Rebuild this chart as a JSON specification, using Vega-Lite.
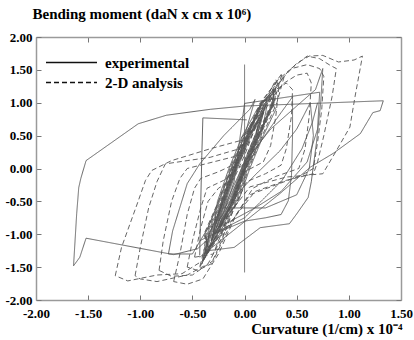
{
  "$schema": "https://vega.github.io/schema/vega-lite/v6.json",
  "autosize": {"type": "none"},
  "width": 365,
  "height": 263,
  "padding": {"left": 36, "top": 37, "right": 13, "bottom": 40},
  "background": "white",
  "config": {
    "view": {"stroke": null},
    "font": "Liberation Serif",
    "axis": {
      "labelFont": "Liberation Serif", "labelFontWeight": "bold", "labelFontSize": 13, "labelColor": "black",
      "titleFont": "Liberation Serif", "titleFontWeight": "bold", "titleFontSize": 15, "titleColor": "black",
      "domainColor": "#9a9a9a", "domainWidth": 1.5, "tickColor": "#777", "tickWidth": 1, "grid": false
    },
    "legend": {
      "labelFont": "Liberation Serif", "labelFontWeight": "bold", "labelFontSize": 15, "labelColor": "black"
    }
  },
  "data": {"values": [
    {"series":"experimental","loop":"E1","x":-0.43,"y":-1.35},
    {"series":"experimental","loop":"E1","x":0.34,"y":-0.38},
    {"series":"experimental","loop":"E1","x":0.63,"y":0.02},
    {"series":"experimental","loop":"E1","x":0.85,"y":0.23},
    {"series":"experimental","loop":"E1","x":1.11,"y":0.53},
    {"series":"experimental","loop":"E1","x":1.23,"y":0.85},
    {"series":"experimental","loop":"E1","x":1.30,"y":0.88},
    {"series":"experimental","loop":"E1","x":1.33,"y":1.03},
    {"series":"experimental","loop":"E1","x":0.0,"y":0.95},
    {"series":"experimental","loop":"E1","x":-0.33,"y":0.90},
    {"series":"experimental","loop":"E1","x":-0.75,"y":0.81},
    {"series":"experimental","loop":"E1","x":-1.02,"y":0.68},
    {"series":"experimental","loop":"E1","x":-1.52,"y":0.12},
    {"series":"experimental","loop":"E1","x":-1.57,"y":-0.15},
    {"series":"experimental","loop":"E1","x":-1.59,"y":-0.29},
    {"series":"experimental","loop":"E1","x":-1.61,"y":-0.69},
    {"series":"experimental","loop":"E1","x":-1.64,"y":-1.48},
    {"series":"experimental","loop":"E1","x":-1.58,"y":-1.35},
    {"series":"experimental","loop":"E1","x":-1.52,"y":-1.06},
    {"series":"experimental","loop":"E1","x":-0.68,"y":-1.31},
    {"series":"experimental","loop":"E1","x":-0.45,"y":-1.22},
    {"series":"experimental","loop":"E1","x":-0.30,"y":-1.0},

    {"series":"experimental","loop":"E2","x":0.0,"y":-1.58},
    {"series":"experimental","loop":"E2","x":0.0,"y":1.58},

    {"series":"experimental","loop":"E3","x":0.02,"y":0.74},
    {"series":"experimental","loop":"E3","x":-0.40,"y":0.77},
    {"series":"experimental","loop":"E3","x":-0.41,"y":0.2},
    {"series":"experimental","loop":"E3","x":-0.42,"y":-0.5},
    {"series":"experimental","loop":"E3","x":-0.43,"y":-1.32},

    {"series":"experimental","loop":"E4","x":-0.35,"y":-1.25},
    {"series":"experimental","loop":"E4","x":-0.2,"y":-0.6},
    {"series":"experimental","loop":"E4","x":0.0,"y":0.1},
    {"series":"experimental","loop":"E4","x":0.25,"y":0.6},
    {"series":"experimental","loop":"E4","x":0.5,"y":0.95},
    {"series":"experimental","loop":"E4","x":0.68,"y":1.2},
    {"series":"experimental","loop":"E4","x":0.75,"y":1.52},
    {"series":"experimental","loop":"E4","x":0.73,"y":1.0},
    {"series":"experimental","loop":"E4","x":0.69,"y":0.4},
    {"series":"experimental","loop":"E4","x":0.64,"y":-0.2},
    {"series":"experimental","loop":"E4","x":0.61,"y":-0.44},
    {"series":"experimental","loop":"E4","x":0.5,"y":-0.69},
    {"series":"experimental","loop":"E4","x":0.43,"y":-0.84},
    {"series":"experimental","loop":"E4","x":0.15,"y":-0.90},
    {"series":"experimental","loop":"E4","x":0.05,"y":-1.02},
    {"series":"experimental","loop":"E4","x":-0.1,"y":-1.2},
    {"series":"experimental","loop":"E4","x":-0.35,"y":-1.25},

    {"series":"experimental","loop":"E5","x":-0.3,"y":-1.0},
    {"series":"experimental","loop":"E5","x":-0.1,"y":-0.3},
    {"series":"experimental","loop":"E5","x":0.15,"y":0.4},
    {"series":"experimental","loop":"E5","x":0.35,"y":0.85},
    {"series":"experimental","loop":"E5","x":0.46,"y":1.09},
    {"series":"experimental","loop":"E5","x":0.46,"y":0.5},
    {"series":"experimental","loop":"E5","x":0.45,"y":-0.1},
    {"series":"experimental","loop":"E5","x":0.42,"y":-0.49},
    {"series":"experimental","loop":"E5","x":0.35,"y":-0.7},
    {"series":"experimental","loop":"E5","x":0.2,"y":-0.75},
    {"series":"experimental","loop":"E5","x":0.0,"y":-0.8},
    {"series":"experimental","loop":"E5","x":-0.3,"y":-1.0},

    {"series":"experimental","loop":"E6","x":-0.25,"y":-0.9},
    {"series":"experimental","loop":"E6","x":-0.1,"y":-0.2},
    {"series":"experimental","loop":"E6","x":0.0,"y":0.99},
    {"series":"experimental","loop":"E6","x":0.72,"y":1.16},
    {"series":"experimental","loop":"E6","x":0.70,"y":0.6},
    {"series":"experimental","loop":"E6","x":0.6,"y":0.1},
    {"series":"experimental","loop":"E6","x":0.35,"y":-0.35},
    {"series":"experimental","loop":"E6","x":0.1,"y":-0.6},
    {"series":"experimental","loop":"E6","x":-0.25,"y":-0.9},

    {"series":"experimental","loop":"E7","x":-0.73,"y":-1.3},
    {"series":"experimental","loop":"E7","x":-0.69,"y":-0.95},
    {"series":"experimental","loop":"E7","x":-0.55,"y":-0.23},
    {"series":"experimental","loop":"E7","x":-0.43,"y":0.07},
    {"series":"experimental","loop":"E7","x":-0.2,"y":0.5},
    {"series":"experimental","loop":"E7","x":0.05,"y":0.9},
    {"series":"experimental","loop":"E7","x":0.1,"y":1.05},
    {"series":"experimental","loop":"E7","x":0.0,"y":0.5},
    {"series":"experimental","loop":"E7","x":-0.2,"y":-0.3},
    {"series":"experimental","loop":"E7","x":-0.35,"y":-0.9},
    {"series":"experimental","loop":"E7","x":-0.5,"y":-1.3},
    {"series":"experimental","loop":"E7","x":-0.73,"y":-1.3},

    {"series":"experimental","loop":"E9","x":-0.43,"y":-1.1},
    {"series":"experimental","loop":"E9","x":0.0,"y":-0.75},
    {"series":"experimental","loop":"E9","x":0.36,"y":-0.18},
    {"series":"experimental","loop":"E9","x":0.55,"y":0.3},
    {"series":"experimental","loop":"E9","x":0.65,"y":0.7},
    {"series":"experimental","loop":"E9","x":0.7,"y":1.0},

    {"series":"experimental","loop":"E10","x":-0.2,"y":-0.6},
    {"series":"experimental","loop":"E10","x":0.1,"y":-0.1},
    {"series":"experimental","loop":"E10","x":0.34,"y":0.27},
    {"series":"experimental","loop":"E10","x":0.5,"y":0.6},
    {"series":"experimental","loop":"E10","x":0.63,"y":1.0},
    {"series":"experimental","loop":"E10","x":0.66,"y":0.5},
    {"series":"experimental","loop":"E10","x":0.62,"y":0.0},
    {"series":"experimental","loop":"E10","x":0.5,"y":-0.4},
    {"series":"experimental","loop":"E10","x":0.2,"y":-0.6},
    {"series":"experimental","loop":"E10","x":-0.2,"y":-0.6},

    {"series":"experimental","loop":"C1","x":-0.37,"y":-1.3},
    {"series":"experimental","loop":"C1","x":-0.26,"y":-1.0},
    {"series":"experimental","loop":"C1","x":-0.12,"y":-0.5},
    {"series":"experimental","loop":"C1","x":-0.01,"y":0},
    {"series":"experimental","loop":"C1","x":0.12,"y":0.5},
    {"series":"experimental","loop":"C1","x":0.19,"y":0.9},
    {"series":"experimental","loop":"C1","x":0.04,"y":0.5},
    {"series":"experimental","loop":"C1","x":-0.09,"y":0},
    {"series":"experimental","loop":"C1","x":-0.20,"y":-0.5},
    {"series":"experimental","loop":"C1","x":-0.34,"y":-1.0},
    {"series":"experimental","loop":"C1","x":-0.37,"y":-1.3},

    {"series":"experimental","loop":"C2","x":-0.32,"y":-1.1},
    {"series":"experimental","loop":"C2","x":-0.10,"y":-0.5},
    {"series":"experimental","loop":"C2","x":0.01,"y":0},
    {"series":"experimental","loop":"C2","x":0.14,"y":0.5},
    {"series":"experimental","loop":"C2","x":0.28,"y":1.0},
    {"series":"experimental","loop":"C2","x":0.25,"y":1.1},
    {"series":"experimental","loop":"C2","x":0.16,"y":1.0},
    {"series":"experimental","loop":"C2","x":0.02,"y":0.5},
    {"series":"experimental","loop":"C2","x":-0.11,"y":0},
    {"series":"experimental","loop":"C2","x":-0.22,"y":-0.5},
    {"series":"experimental","loop":"C2","x":-0.32,"y":-1.1},

    {"series":"experimental","loop":"C3","x":-0.41,"y":-1.45},
    {"series":"experimental","loop":"C3","x":-0.27,"y":-1.0},
    {"series":"experimental","loop":"C3","x":-0.13,"y":-0.5},
    {"series":"experimental","loop":"C3","x":-0.02,"y":0},
    {"series":"experimental","loop":"C3","x":0.11,"y":0.5},
    {"series":"experimental","loop":"C3","x":0.13,"y":0.7},
    {"series":"experimental","loop":"C3","x":0.05,"y":0.5},
    {"series":"experimental","loop":"C3","x":-0.08,"y":0},
    {"series":"experimental","loop":"C3","x":-0.19,"y":-0.5},
    {"series":"experimental","loop":"C3","x":-0.33,"y":-1.0},
    {"series":"experimental","loop":"C3","x":-0.41,"y":-1.45},

    {"series":"experimental","loop":"C4","x":-0.27,"y":-0.9},
    {"series":"experimental","loop":"C4","x":-0.11,"y":-0.5},
    {"series":"experimental","loop":"C4","x":0.0,"y":0},
    {"series":"experimental","loop":"C4","x":0.13,"y":0.5},
    {"series":"experimental","loop":"C4","x":0.27,"y":1.0},
    {"series":"experimental","loop":"C4","x":0.28,"y":1.2},
    {"series":"experimental","loop":"C4","x":0.17,"y":1.0},
    {"series":"experimental","loop":"C4","x":0.03,"y":0.5},
    {"series":"experimental","loop":"C4","x":-0.10,"y":0},
    {"series":"experimental","loop":"C4","x":-0.21,"y":-0.5},
    {"series":"experimental","loop":"C4","x":-0.27,"y":-0.9},

    {"series":"experimental","loop":"C5","x":-0.35,"y":-1.2},
    {"series":"experimental","loop":"C5","x":-0.22,"y":-1.0},
    {"series":"experimental","loop":"C5","x":-0.08,"y":-0.5},
    {"series":"experimental","loop":"C5","x":0.03,"y":0},
    {"series":"experimental","loop":"C5","x":0.16,"y":0.5},
    {"series":"experimental","loop":"C5","x":0.22,"y":1.0},
    {"series":"experimental","loop":"C5","x":0.0,"y":0.5},
    {"series":"experimental","loop":"C5","x":-0.13,"y":0},
    {"series":"experimental","loop":"C5","x":-0.24,"y":-0.5},
    {"series":"experimental","loop":"C5","x":-0.38,"y":-1.0},
    {"series":"experimental","loop":"C5","x":-0.35,"y":-1.2},

    {"series":"experimental","loop":"C6","x":-0.25,"y":-0.8},
    {"series":"experimental","loop":"C6","x":-0.13,"y":-0.5},
    {"series":"experimental","loop":"C6","x":-0.02,"y":0},
    {"series":"experimental","loop":"C6","x":0.11,"y":0.5},
    {"series":"experimental","loop":"C6","x":0.16,"y":0.8},
    {"series":"experimental","loop":"C6","x":0.05,"y":0.5},
    {"series":"experimental","loop":"C6","x":-0.08,"y":0},
    {"series":"experimental","loop":"C6","x":-0.19,"y":-0.5},
    {"series":"experimental","loop":"C6","x":-0.25,"y":-0.8},

    {"series":"experimental","loop":"C7","x":-0.38,"y":-1.35},
    {"series":"experimental","loop":"C7","x":-0.24,"y":-1.0},
    {"series":"experimental","loop":"C7","x":-0.10,"y":-0.5},
    {"series":"experimental","loop":"C7","x":0.01,"y":0},
    {"series":"experimental","loop":"C7","x":0.14,"y":0.5},
    {"series":"experimental","loop":"C7","x":0.28,"y":1.0},
    {"series":"experimental","loop":"C7","x":0.28,"y":1.2},
    {"series":"experimental","loop":"C7","x":0.16,"y":1.0},
    {"series":"experimental","loop":"C7","x":0.02,"y":0.5},
    {"series":"experimental","loop":"C7","x":-0.11,"y":0},
    {"series":"experimental","loop":"C7","x":-0.22,"y":-0.5},
    {"series":"experimental","loop":"C7","x":-0.36,"y":-1.0},
    {"series":"experimental","loop":"C7","x":-0.38,"y":-1.35},

    {"series":"experimental","loop":"C8","x":-0.30,"y":-1.0},
    {"series":"experimental","loop":"C8","x":-0.06,"y":-0.5},
    {"series":"experimental","loop":"C8","x":0.05,"y":0},
    {"series":"experimental","loop":"C8","x":0.18,"y":0.5},
    {"series":"experimental","loop":"C8","x":0.30,"y":0.9},
    {"series":"experimental","loop":"C8","x":0.24,"y":1.05},
    {"series":"experimental","loop":"C8","x":0.12,"y":0.9},
    {"series":"experimental","loop":"C8","x":-0.02,"y":0.5},
    {"series":"experimental","loop":"C8","x":-0.15,"y":0},
    {"series":"experimental","loop":"C8","x":-0.26,"y":-0.5},
    {"series":"experimental","loop":"C8","x":-0.30,"y":-1.0},

    {"series":"experimental","loop":"C9","x":-0.36,"y":-1.25},
    {"series":"experimental","loop":"C9","x":-0.28,"y":-1.0},
    {"series":"experimental","loop":"C9","x":-0.14,"y":-0.5},
    {"series":"experimental","loop":"C9","x":-0.03,"y":0},
    {"series":"experimental","loop":"C9","x":0.10,"y":0.5},
    {"series":"experimental","loop":"C9","x":0.20,"y":0.95},
    {"series":"experimental","loop":"C9","x":0.06,"y":0.5},
    {"series":"experimental","loop":"C9","x":-0.07,"y":0},
    {"series":"experimental","loop":"C9","x":-0.18,"y":-0.5},
    {"series":"experimental","loop":"C9","x":-0.32,"y":-1.0},
    {"series":"experimental","loop":"C9","x":-0.36,"y":-1.25},

    {"series":"experimental","loop":"C10","x":-0.31,"y":-1.05},
    {"series":"experimental","loop":"C10","x":-0.11,"y":-0.5},
    {"series":"experimental","loop":"C10","x":0.0,"y":0},
    {"series":"experimental","loop":"C10","x":0.13,"y":0.5},
    {"series":"experimental","loop":"C10","x":0.27,"y":1.0},
    {"series":"experimental","loop":"C10","x":0.28,"y":1.15},
    {"series":"experimental","loop":"C10","x":0.17,"y":1.0},
    {"series":"experimental","loop":"C10","x":0.03,"y":0.5},
    {"series":"experimental","loop":"C10","x":-0.10,"y":0},
    {"series":"experimental","loop":"C10","x":-0.21,"y":-0.5},
    {"series":"experimental","loop":"C10","x":-0.31,"y":-1.05},

    {"series":"experimental","loop":"C11","x":-0.40,"y":-1.4},
    {"series":"experimental","loop":"C11","x":-0.26,"y":-1.0},
    {"series":"experimental","loop":"C11","x":-0.12,"y":-0.5},
    {"series":"experimental","loop":"C11","x":-0.01,"y":0},
    {"series":"experimental","loop":"C11","x":0.12,"y":0.5},
    {"series":"experimental","loop":"C11","x":0.18,"y":0.85},
    {"series":"experimental","loop":"C11","x":0.04,"y":0.5},
    {"series":"experimental","loop":"C11","x":-0.09,"y":0},
    {"series":"experimental","loop":"C11","x":-0.20,"y":-0.5},
    {"series":"experimental","loop":"C11","x":-0.34,"y":-1.0},
    {"series":"experimental","loop":"C11","x":-0.40,"y":-1.4},

    {"series":"2-D analysis","loop":"D1","x":-1.24,"y":-1.63},
    {"series":"2-D analysis","loop":"D1","x":-1.18,"y":-1.2},
    {"series":"2-D analysis","loop":"D1","x":-1.03,"y":-0.54},
    {"series":"2-D analysis","loop":"D1","x":-0.95,"y":-0.18},
    {"series":"2-D analysis","loop":"D1","x":-0.89,"y":-0.03},
    {"series":"2-D analysis","loop":"D1","x":-0.70,"y":0.12},
    {"series":"2-D analysis","loop":"D1","x":-0.33,"y":0.30},
    {"series":"2-D analysis","loop":"D1","x":-0.05,"y":0.42},
    {"series":"2-D analysis","loop":"D1","x":0.15,"y":0.85},
    {"series":"2-D analysis","loop":"D1","x":0.35,"y":1.35},
    {"series":"2-D analysis","loop":"D1","x":0.5,"y":1.6},
    {"series":"2-D analysis","loop":"D1","x":0.62,"y":1.71},
    {"series":"2-D analysis","loop":"D1","x":0.75,"y":1.72},
    {"series":"2-D analysis","loop":"D1","x":0.9,"y":1.62},
    {"series":"2-D analysis","loop":"D1","x":1.05,"y":1.65},
    {"series":"2-D analysis","loop":"D1","x":1.13,"y":1.71},
    {"series":"2-D analysis","loop":"D1","x":1.12,"y":1.62},
    {"series":"2-D analysis","loop":"D1","x":1.06,"y":1.1},
    {"series":"2-D analysis","loop":"D1","x":1.01,"y":0.63},
    {"series":"2-D analysis","loop":"D1","x":0.88,"y":0.27},
    {"series":"2-D analysis","loop":"D1","x":0.75,"y":-0.08},
    {"series":"2-D analysis","loop":"D1","x":0.40,"y":-0.13},
    {"series":"2-D analysis","loop":"D1","x":0.05,"y":-0.28},
    {"series":"2-D analysis","loop":"D1","x":-0.2,"y":-0.8},
    {"series":"2-D analysis","loop":"D1","x":-0.4,"y":-1.4},
    {"series":"2-D analysis","loop":"D1","x":-0.6,"y":-1.6},
    {"series":"2-D analysis","loop":"D1","x":-0.84,"y":-1.62},
    {"series":"2-D analysis","loop":"D1","x":-1.12,"y":-1.71},
    {"series":"2-D analysis","loop":"D1","x":-1.24,"y":-1.63},

    {"series":"2-D analysis","loop":"D2","x":-1.05,"y":-1.63},
    {"series":"2-D analysis","loop":"D2","x":-1.0,"y":-1.2},
    {"series":"2-D analysis","loop":"D2","x":-0.92,"y":-0.6},
    {"series":"2-D analysis","loop":"D2","x":-0.84,"y":-0.2},
    {"series":"2-D analysis","loop":"D2","x":-0.76,"y":0.07},
    {"series":"2-D analysis","loop":"D2","x":-0.55,"y":0.12},
    {"series":"2-D analysis","loop":"D2","x":-0.33,"y":0.17},
    {"series":"2-D analysis","loop":"D2","x":-0.05,"y":0.3},
    {"series":"2-D analysis","loop":"D2","x":0.15,"y":0.8},
    {"series":"2-D analysis","loop":"D2","x":0.3,"y":1.25},
    {"series":"2-D analysis","loop":"D2","x":0.43,"y":1.5},
    {"series":"2-D analysis","loop":"D2","x":0.6,"y":1.71},
    {"series":"2-D analysis","loop":"D2","x":0.72,"y":1.67},
    {"series":"2-D analysis","loop":"D2","x":0.82,"y":1.57},
    {"series":"2-D analysis","loop":"D2","x":0.88,"y":1.52},
    {"series":"2-D analysis","loop":"D2","x":0.84,"y":1.1},
    {"series":"2-D analysis","loop":"D2","x":0.76,"y":0.5},
    {"series":"2-D analysis","loop":"D2","x":0.70,"y":0.1},
    {"series":"2-D analysis","loop":"D2","x":0.66,"y":-0.08},
    {"series":"2-D analysis","loop":"D2","x":0.40,"y":-0.18},
    {"series":"2-D analysis","loop":"D2","x":0.1,"y":-0.35},
    {"series":"2-D analysis","loop":"D2","x":-0.15,"y":-0.85},
    {"series":"2-D analysis","loop":"D2","x":-0.35,"y":-1.45},
    {"series":"2-D analysis","loop":"D2","x":-0.55,"y":-1.62},
    {"series":"2-D analysis","loop":"D2","x":-0.84,"y":-1.72},
    {"series":"2-D analysis","loop":"D2","x":-1.0,"y":-1.68},
    {"series":"2-D analysis","loop":"D2","x":-1.05,"y":-1.63},

    {"series":"2-D analysis","loop":"D3","x":-0.82,"y":-1.55},
    {"series":"2-D analysis","loop":"D3","x":-0.78,"y":-1.1},
    {"series":"2-D analysis","loop":"D3","x":-0.70,"y":-0.5},
    {"series":"2-D analysis","loop":"D3","x":-0.62,"y":-0.15},
    {"series":"2-D analysis","loop":"D3","x":-0.55,"y":0.0},
    {"series":"2-D analysis","loop":"D3","x":-0.35,"y":0.08},
    {"series":"2-D analysis","loop":"D3","x":-0.1,"y":0.18},
    {"series":"2-D analysis","loop":"D3","x":0.05,"y":0.5},
    {"series":"2-D analysis","loop":"D3","x":0.2,"y":1.0},
    {"series":"2-D analysis","loop":"D3","x":0.32,"y":1.35},
    {"series":"2-D analysis","loop":"D3","x":0.45,"y":1.52},
    {"series":"2-D analysis","loop":"D3","x":0.6,"y":1.58},
    {"series":"2-D analysis","loop":"D3","x":0.72,"y":1.52},
    {"series":"2-D analysis","loop":"D3","x":0.76,"y":1.4},
    {"series":"2-D analysis","loop":"D3","x":0.74,"y":0.9},
    {"series":"2-D analysis","loop":"D3","x":0.70,"y":0.4},
    {"series":"2-D analysis","loop":"D3","x":0.66,"y":0.0},
    {"series":"2-D analysis","loop":"D3","x":0.55,"y":-0.1},
    {"series":"2-D analysis","loop":"D3","x":0.3,"y":-0.25},
    {"series":"2-D analysis","loop":"D3","x":0.05,"y":-0.4},
    {"series":"2-D analysis","loop":"D3","x":-0.12,"y":-0.8},
    {"series":"2-D analysis","loop":"D3","x":-0.3,"y":-1.4},
    {"series":"2-D analysis","loop":"D3","x":-0.5,"y":-1.62},
    {"series":"2-D analysis","loop":"D3","x":-0.7,"y":-1.64},
    {"series":"2-D analysis","loop":"D3","x":-0.82,"y":-1.55},

    {"series":"2-D analysis","loop":"D4","x":-0.68,"y":-1.72},
    {"series":"2-D analysis","loop":"D4","x":-0.62,"y":-1.3},
    {"series":"2-D analysis","loop":"D4","x":-0.55,"y":-0.7},
    {"series":"2-D analysis","loop":"D4","x":-0.48,"y":-0.3},
    {"series":"2-D analysis","loop":"D4","x":-0.42,"y":-0.15},
    {"series":"2-D analysis","loop":"D4","x":-0.25,"y":-0.05},
    {"series":"2-D analysis","loop":"D4","x":-0.05,"y":0.1},
    {"series":"2-D analysis","loop":"D4","x":0.1,"y":0.6},
    {"series":"2-D analysis","loop":"D4","x":0.25,"y":1.05},
    {"series":"2-D analysis","loop":"D4","x":0.38,"y":1.3},
    {"series":"2-D analysis","loop":"D4","x":0.5,"y":1.42},
    {"series":"2-D analysis","loop":"D4","x":0.6,"y":1.45},
    {"series":"2-D analysis","loop":"D4","x":0.64,"y":1.3},
    {"series":"2-D analysis","loop":"D4","x":0.62,"y":0.8},
    {"series":"2-D analysis","loop":"D4","x":0.58,"y":0.3},
    {"series":"2-D analysis","loop":"D4","x":0.52,"y":0.0},
    {"series":"2-D analysis","loop":"D4","x":0.3,"y":-0.12},
    {"series":"2-D analysis","loop":"D4","x":0.08,"y":-0.3},
    {"series":"2-D analysis","loop":"D4","x":-0.08,"y":-0.7},
    {"series":"2-D analysis","loop":"D4","x":-0.25,"y":-1.3},
    {"series":"2-D analysis","loop":"D4","x":-0.4,"y":-1.68},
    {"series":"2-D analysis","loop":"D4","x":-0.55,"y":-1.76},
    {"series":"2-D analysis","loop":"D4","x":-0.68,"y":-1.72},

    {"series":"2-D analysis","loop":"D5","x":-0.55,"y":-1.5},
    {"series":"2-D analysis","loop":"D5","x":-0.5,"y":-1.1},
    {"series":"2-D analysis","loop":"D5","x":-0.42,"y":-0.6},
    {"series":"2-D analysis","loop":"D5","x":-0.36,"y":-0.3},
    {"series":"2-D analysis","loop":"D5","x":-0.2,"y":-0.18},
    {"series":"2-D analysis","loop":"D5","x":-0.02,"y":0.05},
    {"series":"2-D analysis","loop":"D5","x":0.1,"y":0.5},
    {"series":"2-D analysis","loop":"D5","x":0.2,"y":0.95},
    {"series":"2-D analysis","loop":"D5","x":0.3,"y":1.2},
    {"series":"2-D analysis","loop":"D5","x":0.4,"y":1.3},
    {"series":"2-D analysis","loop":"D5","x":0.46,"y":1.2},
    {"series":"2-D analysis","loop":"D5","x":0.45,"y":0.8},
    {"series":"2-D analysis","loop":"D5","x":0.40,"y":0.3},
    {"series":"2-D analysis","loop":"D5","x":0.35,"y":0.05},
    {"series":"2-D analysis","loop":"D5","x":0.2,"y":-0.08},
    {"series":"2-D analysis","loop":"D5","x":0.02,"y":-0.2},
    {"series":"2-D analysis","loop":"D5","x":-0.1,"y":-0.6},
    {"series":"2-D analysis","loop":"D5","x":-0.22,"y":-1.1},
    {"series":"2-D analysis","loop":"D5","x":-0.32,"y":-1.45},
    {"series":"2-D analysis","loop":"D5","x":-0.45,"y":-1.55},
    {"series":"2-D analysis","loop":"D5","x":-0.55,"y":-1.5},

    {"series":"2-D analysis","loop":"D6","x":-0.48,"y":-1.35},
    {"series":"2-D analysis","loop":"D6","x":-0.42,"y":-0.9},
    {"series":"2-D analysis","loop":"D6","x":-0.35,"y":-0.5},
    {"series":"2-D analysis","loop":"D6","x":-0.25,"y":-0.3},
    {"series":"2-D analysis","loop":"D6","x":-0.1,"y":-0.15},
    {"series":"2-D analysis","loop":"D6","x":0.0,"y":0.2},
    {"series":"2-D analysis","loop":"D6","x":0.12,"y":0.7},
    {"series":"2-D analysis","loop":"D6","x":0.22,"y":1.1},
    {"series":"2-D analysis","loop":"D6","x":0.3,"y":1.35},
    {"series":"2-D analysis","loop":"D6","x":0.33,"y":1.25},
    {"series":"2-D analysis","loop":"D6","x":0.30,"y":0.8},
    {"series":"2-D analysis","loop":"D6","x":0.25,"y":0.35},
    {"series":"2-D analysis","loop":"D6","x":0.18,"y":0.1},
    {"series":"2-D analysis","loop":"D6","x":0.0,"y":-0.05},
    {"series":"2-D analysis","loop":"D6","x":-0.1,"y":-0.4},
    {"series":"2-D analysis","loop":"D6","x":-0.2,"y":-0.9},
    {"series":"2-D analysis","loop":"D6","x":-0.3,"y":-1.3},
    {"series":"2-D analysis","loop":"D6","x":-0.48,"y":-1.35},

    {"series":"2-D analysis","loop":"DC1","x":-0.40,"y":-1.4},
    {"series":"2-D analysis","loop":"DC1","x":-0.23,"y":-1.0},
    {"series":"2-D analysis","loop":"DC1","x":-0.09,"y":-0.5},
    {"series":"2-D analysis","loop":"DC1","x":0.02,"y":0},
    {"series":"2-D analysis","loop":"DC1","x":0.15,"y":0.5},
    {"series":"2-D analysis","loop":"DC1","x":0.29,"y":1.0},
    {"series":"2-D analysis","loop":"DC1","x":0.30,"y":1.3},
    {"series":"2-D analysis","loop":"DC1","x":0.15,"y":1.0},
    {"series":"2-D analysis","loop":"DC1","x":0.01,"y":0.5},
    {"series":"2-D analysis","loop":"DC1","x":-0.12,"y":0},
    {"series":"2-D analysis","loop":"DC1","x":-0.23,"y":-0.5},
    {"series":"2-D analysis","loop":"DC1","x":-0.37,"y":-1.0},
    {"series":"2-D analysis","loop":"DC1","x":-0.40,"y":-1.4},

    {"series":"2-D analysis","loop":"DC2","x":-0.35,"y":-1.2},
    {"series":"2-D analysis","loop":"DC2","x":-0.21,"y":-1.0},
    {"series":"2-D analysis","loop":"DC2","x":-0.07,"y":-0.5},
    {"series":"2-D analysis","loop":"DC2","x":0.04,"y":0},
    {"series":"2-D analysis","loop":"DC2","x":0.17,"y":0.5},
    {"series":"2-D analysis","loop":"DC2","x":0.31,"y":1.0},
    {"series":"2-D analysis","loop":"DC2","x":0.38,"y":1.4},
    {"series":"2-D analysis","loop":"DC2","x":0.20,"y":1.0},
    {"series":"2-D analysis","loop":"DC2","x":-0.01,"y":0.5},
    {"series":"2-D analysis","loop":"DC2","x":-0.14,"y":0},
    {"series":"2-D analysis","loop":"DC2","x":-0.25,"y":-0.5},
    {"series":"2-D analysis","loop":"DC2","x":-0.39,"y":-1.0},
    {"series":"2-D analysis","loop":"DC2","x":-0.35,"y":-1.2},

    {"series":"2-D analysis","loop":"DC3","x":-0.43,"y":-1.5},
    {"series":"2-D analysis","loop":"DC3","x":-0.25,"y":-1.0},
    {"series":"2-D analysis","loop":"DC3","x":-0.11,"y":-0.5},
    {"series":"2-D analysis","loop":"DC3","x":0.0,"y":0},
    {"series":"2-D analysis","loop":"DC3","x":0.13,"y":0.5},
    {"series":"2-D analysis","loop":"DC3","x":0.27,"y":1.0},
    {"series":"2-D analysis","loop":"DC3","x":0.25,"y":1.1},
    {"series":"2-D analysis","loop":"DC3","x":0.17,"y":1.0},
    {"series":"2-D analysis","loop":"DC3","x":0.03,"y":0.5},
    {"series":"2-D analysis","loop":"DC3","x":-0.10,"y":0},
    {"series":"2-D analysis","loop":"DC3","x":-0.21,"y":-0.5},
    {"series":"2-D analysis","loop":"DC3","x":-0.35,"y":-1.0},
    {"series":"2-D analysis","loop":"DC3","x":-0.43,"y":-1.5},

    {"series":"2-D analysis","loop":"DC4","x":-0.37,"y":-1.3},
    {"series":"2-D analysis","loop":"DC4","x":-0.26,"y":-1.0},
    {"series":"2-D analysis","loop":"DC4","x":-0.12,"y":-0.5},
    {"series":"2-D analysis","loop":"DC4","x":-0.01,"y":0},
    {"series":"2-D analysis","loop":"DC4","x":0.12,"y":0.5},
    {"series":"2-D analysis","loop":"DC4","x":0.26,"y":1.0},
    {"series":"2-D analysis","loop":"DC4","x":0.30,"y":1.25},
    {"series":"2-D analysis","loop":"DC4","x":0.18,"y":1.0},
    {"series":"2-D analysis","loop":"DC4","x":0.04,"y":0.5},
    {"series":"2-D analysis","loop":"DC4","x":-0.09,"y":0},
    {"series":"2-D analysis","loop":"DC4","x":-0.20,"y":-0.5},
    {"series":"2-D analysis","loop":"DC4","x":-0.34,"y":-1.0},
    {"series":"2-D analysis","loop":"DC4","x":-0.37,"y":-1.3},

    {"series":"2-D analysis","loop":"DC5","x":-0.32,"y":-1.1},
    {"series":"2-D analysis","loop":"DC5","x":-0.10,"y":-0.5},
    {"series":"2-D analysis","loop":"DC5","x":0.01,"y":0},
    {"series":"2-D analysis","loop":"DC5","x":0.14,"y":0.5},
    {"series":"2-D analysis","loop":"DC5","x":0.28,"y":1.0},
    {"series":"2-D analysis","loop":"DC5","x":0.36,"y":1.45},
    {"series":"2-D analysis","loop":"DC5","x":0.16,"y":1.0},
    {"series":"2-D analysis","loop":"DC5","x":0.02,"y":0.5},
    {"series":"2-D analysis","loop":"DC5","x":-0.11,"y":0},
    {"series":"2-D analysis","loop":"DC5","x":-0.22,"y":-0.5},
    {"series":"2-D analysis","loop":"DC5","x":-0.32,"y":-1.1}
  ]},
  "layer": [
    {
      "mark": {"type": "line", "color": "#555", "strokeWidth": 0.9, "clip": true},
      "encoding": {
        "x": {"field": "x", "type": "quantitative",
          "scale": {"domain": [-2, 1.5], "nice": false, "zero": false},
          "axis": {"orient": "bottom", "values": [-2, -1.5, -1, -0.5, 0, 0.5, 1, 1.5],
            "labelExpr": "replace(format(datum.value, '.2f'), '\u2212', '-')",
            "tickSize": -5, "labelPadding": 12, "labelFlush": false,
            "title": "Curvature (1/cm) x 10\u207b\u2074", "titleAnchor": "end", "titleAlign": "right",
            "titleX": 366, "titleY": 33, "titleBaseline": "alphabetic"}},
        "y": {"field": "y", "type": "quantitative",
          "scale": {"domain": [-2, 2], "nice": false, "zero": false},
          "axis": {"orient": "left", "values": [-2, -1.5, -1, -0.5, 0, 0.5, 1, 1.5, 2],
            "labelExpr": "replace(format(datum.value, '.2f'), '\u2212', '-')",
            "tickSize": -5, "labelPadding": 9, "labelFlush": false,
            "title": "Bending moment (daN x cm x 10\u2076)", "titleAngle": 0, "titleAlign": "left",
            "titleX": -4, "titleY": -24, "titleBaseline": "middle"}},
        "detail": {"field": "loop"},
        "order": {"value": null},
        "strokeDash": {"field": "series", "type": "nominal",
          "scale": {"domain": ["experimental", "2-D analysis"], "range": [[1, 0], [5, 3]]},
          "legend": {"title": null, "orient": "none", "legendX": 28, "legendY": 18,
            "symbolType": "M-10,0H10", "symbolSize": 26, "symbolStrokeWidth": 1.3,
            "symbolStrokeColor": "#111", "rowPadding": 4, "labelOffset": 26, "padding": 0}}
      }
    },
    {
      "mark": {"type": "line", "opacity": 0},
      "encoding": {
        "x": {"field": "x", "type": "quantitative",
          "axis": {"orient": "top", "values": [-2, -1.5, -1, -0.5, 0, 0.5, 1, 1.5], "labels": false, "tickSize": -5, "title": null}},
        "y": {"field": "y", "type": "quantitative",
          "axis": {"orient": "right", "values": [-2, -1.5, -1, -0.5, 0, 0.5, 1, 1.5, 2], "labels": false, "tickSize": -5, "title": null}},
        "detail": {"field": "loop"},
        "order": {"value": null}
      }
    }
  ],
  "resolve": {"axis": {"x": "independent", "y": "independent"}}
}
